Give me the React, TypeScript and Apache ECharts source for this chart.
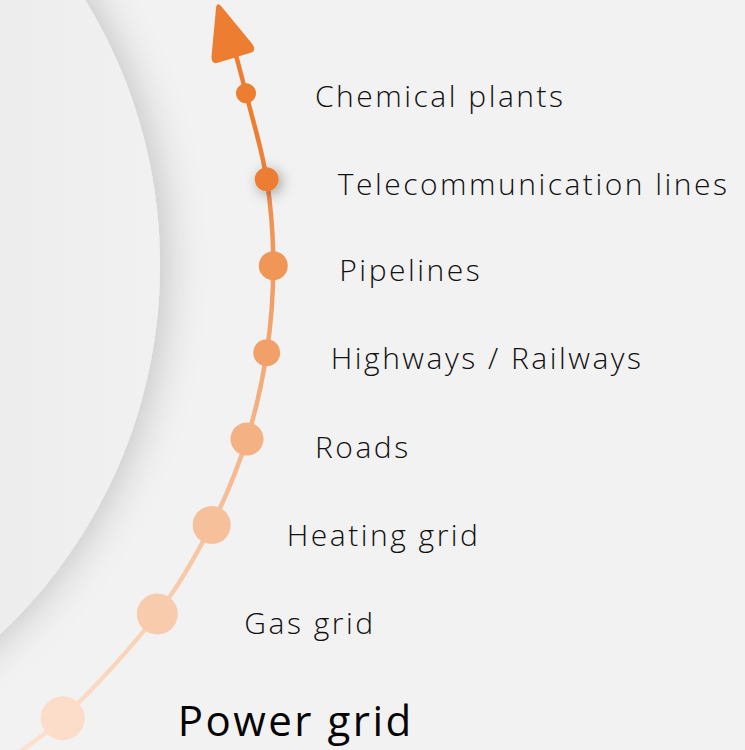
import React, { useEffect, useRef } from "react";
import * as echarts from "echarts";

// Stages along the curve, from bottom (start) to top (arrow)
const categories = [
  "Power grid",
  "Gas grid",
  "Heating grid",
  "Roads",
  "Highways / Railways",
  "Pipelines",
  "Telecommunication lines",
  "Chemical plants",
];
// horizontal position of each stage on the curve (0..745 scale)
const xValues = [62.7, 157.3, 211.7, 247, 266.7, 273.3, 266.7, 246];
// vertical position of each stage on the curve (0..750 scale, top = 0)
const yValues = [718.3, 614, 525, 439, 352.7, 265.7, 179.3, 93.3];
// curve entry point (bottom-left) and end point (under the arrow head)
const curveStart = [0, 765];
const curveEnd = [234, 48];
// arrow head position
const arrowHead = [226, 31];

// styles (not data)
const dotColors = ["#FBDDCA", "#F8CBAD", "#F6C09B", "#F4B183", "#F1A06A", "#F09656", "#ED7D31", "#ED7D31"];
const dotSizes = [44, 41, 38, 33, 27, 29, 24, 20];
const labelDx = [115, 87, 75, 68, 64, 66, 71, 69];
const labelDy = [1, 8, 9, 7, 5, 4, 4, 2];

export default function App() {
  const ref = useRef<HTMLDivElement>(null);
  useEffect(() => {
    if (!ref.current) return;
    const chart = echarts.init(ref.current, null, { renderer: "svg" });

    const points = categories.map((name, i) => {
      const r = dotSizes[i] / 2;
      const isMain = i === 0;
      return {
        name,
        value: [xValues[i], yValues[i]],
        symbol: "circle",
        symbolSize: dotSizes[i],
        itemStyle: {
          color: dotColors[i],
          ...(i === 6
            ? { shadowBlur: 14, shadowColor: "rgba(0,0,0,0.35)", shadowOffsetX: 3, shadowOffsetY: 3 }
            : {}),
        },
        label: {
          show: true,
          position: "right",
          distance: 0,
          offset: [labelDx[i] - r, labelDy[i]],
          formatter: "{b}",
          fontFamily: "'Open Sans', 'Noto Sans', sans-serif",
          fontWeight: isMain ? 500 : 300,
          fontSize: isMain ? 42 : 30,
          color: isMain ? "#050505" : "#111111",
          verticalAlign: "middle",
        },
      };
    });

    const lineData = [
      { value: curveStart, symbol: "none", label: { show: false } },
      ...points,
      { value: curveEnd, symbol: "none", label: { show: false } },
    ];

    chart.setOption({
      animation: false,
      backgroundColor: "#f2f2f2",
      grid: { left: 0, right: 0, top: 0, bottom: 0 },
      xAxis: { type: "value", min: 0, max: 745, show: false },
      yAxis: { type: "value", min: 0, max: 750, inverse: true, show: false },
      graphic: [
        {
          type: "circle",
          z: -10,
          silent: true,
          shape: { cx: -346, cy: 265, r: 506 },
          style: {
            fill: new echarts.graphic.LinearGradient(0, 0, 1, 0, [
              { offset: 0.8, color: "#ececec" },
              { offset: 1, color: "#f1f1f1" },
            ]),
            shadowColor: "rgba(0,0,0,0.17)",
            shadowBlur: 36,
            shadowOffsetX: 9,
            shadowOffsetY: 0,
          },
        },
      ],
      series: [
        {
          type: "line",
          data: lineData,
          smooth: 0.35,
          z: 3,
          showSymbol: true,
          clip: false,
          lineStyle: {
            width: 4.5,
            color: new echarts.graphic.LinearGradient(0, 1, 0, 0, [
              { offset: 0, color: "#FCE3D3" },
              { offset: 0.3, color: "#F7C6A4" },
              { offset: 0.55, color: "#F3AA78" },
              { offset: 0.75, color: "#F09459" },
              { offset: 0.88, color: "#ED7D31" },
              { offset: 1, color: "#ED7D31" },
            ]),
          },
        },
        {
          type: "scatter",
          z: 4,
          data: [{ value: arrowHead }],
          symbol: "path://M44,5 Q50,-5 56,5 L97,83 Q103,97 88,97 L12,97 Q-3,97 3,83 Z",
          symbolSize: [44, 56],
          symbolRotate: 17,
          itemStyle: { color: "#ED7D31", opacity: 1 },
        },
      ],
    });
    return () => chart.dispose();
  }, []);
  return (
    <>
      <style>{`.stage-chart svg text { letter-spacing: 2.5px; }`}</style>
      <div
        ref={ref}
        className="stage-chart"
        style={{ position: "fixed", left: 0, top: 0, width: 745, height: 750 }}
      />
    </>
  );
}
